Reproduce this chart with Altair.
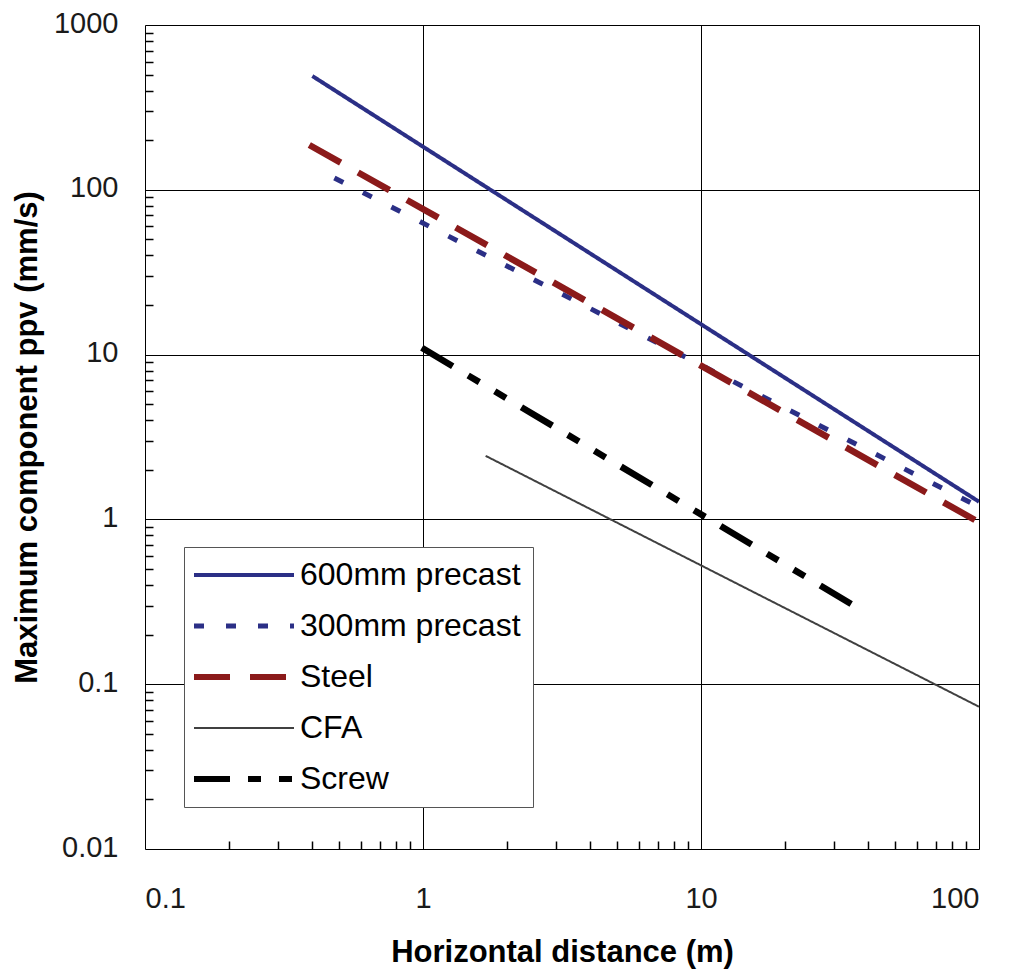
import altair as alt
import pandas as pd

# ---- data ----
series_names = ["600mm precast", "300mm precast", "Steel", "CFA", "Screw"]

x_600 = [0.40, 100.0]
y_600 = [490.0, 1.28]

x_300 = [0.48, 100.0]
y_300 = [118.0, 1.19]

x_steel = [0.39, 100.0]
y_steel = [187.0, 0.96]

x_cfa = [1.68, 100.0]
y_cfa = [2.43, 0.073]

x_screw = [0.99, 38.0]
y_screw = [11.0, 0.28]

x_major = [0.1, 1, 10, 100]
y_major = [0.01, 0.1, 1, 10, 100, 1000]

rows = []
for name, xs, ys in zip(series_names,
                        [x_600, x_300, x_steel, x_cfa, x_screw],
                        [y_600, y_300, y_steel, y_cfa, y_screw]):
    for i, (xv, yv) in enumerate(zip(xs, ys)):
        rows.append({"series": name, "x": xv, "y": yv, "order": i})
df = pd.DataFrame(rows)

x_minor = [m * d for d in [0.1, 1, 10] for m in range(2, 10)]
y_minor = [m * d for d in [0.01, 0.1, 1, 10, 100] for m in range(2, 10)]

colors = ["#2B2F86", "#2B2F86", "#8B1A1A", "#404040", "#000000"]
dashes = [[1, 0], [10, 22], [36, 20], [1, 0], [36, 18, 13, 18, 13, 18]]

FONT = "Liberation Sans"

xscale = alt.Scale(type="log", domain=[0.1, 100], nice=False)
yscale = alt.Scale(type="log", domain=[0.01, 1000], nice=False)

x_axis = alt.Axis(
    orient="bottom",
    values=x_major, format="~g", title="Horizontal distance (m)",
    grid=True, gridColor="#000000", gridWidth=1, gridOpacity=1,
    ticks=False, tickSize=0, domain=False,
    labelFont=FONT, labelFontSize=29, labelColor="#1a1a1a", labelPadding=35,
    labelBaseline="top",
    titleFont=FONT, titleFontSize=31, titleFontWeight="bold", titleColor="#000000",
    titleY=103, titleBaseline="middle",
)
y_axis = alt.Axis(
    orient="left",
    values=y_major, format="~g", title="Maximum component ppv (mm/s)",
    grid=True, gridColor="#000000", gridWidth=1, gridOpacity=1,
    ticks=False, tickSize=0, domain=False,
    labelFont=FONT, labelFontSize=29, labelColor="#1a1a1a", labelPadding=27,
    labelBaseline="middle", labelOffset=-2,
    titleFont=FONT, titleFontSize=31, titleFontWeight="bold", titleColor="#000000",
    titleX=-118, titleBaseline="middle",
)

width_cond = (
    alt.when(alt.datum.series == "CFA").then(alt.value(2))
    .when(alt.datum.series == "600mm precast").then(alt.value(4))
    .when(alt.datum.series == "300mm precast").then(alt.value(5))
    .otherwise(alt.value(6.5))
)

legend = alt.Legend(
    title=None, orient="none", legendX=39, legendY=522,
    padding=12, fillColor="#ffffff", strokeColor="#555555",
    symbolType="stroke", symbolSize=10000, rowPadding=19,
    symbolOffset=32, labelOffset=40,
    symbolStrokeWidth=alt.ExprRef(
        "datum.value === 'CFA' ? 2 : (datum.value === '600mm precast' ? 4 : (datum.value === '300mm precast' ? 5 : 6))"
    ),
    labelFont=FONT, labelFontSize=32, labelColor="#000000", labelLimit=0,
)

lines = alt.Chart(df).mark_line(clip=True).encode(
    x=alt.X("x:Q", scale=xscale, axis=x_axis),
    y=alt.Y("y:Q", scale=yscale, axis=y_axis),
    color=alt.Color("series:N", scale=alt.Scale(domain=series_names, range=colors), legend=legend),
    strokeDash=alt.StrokeDash("series:N", scale=alt.Scale(domain=series_names, range=dashes), legend=legend),
    strokeWidth=width_cond,
    order="order:Q",
)

minor = alt.Chart(df).mark_point(opacity=0).encode(
    x=alt.X("x:Q", scale=xscale, axis=alt.Axis(orient="bottom", values=x_minor, labels=False, grid=False,
                                               domain=False, ticks=True, tickSize=8, tickColor="#000000",
                                               tickWidth=1.5, offset=-8, title=None)),
    y=alt.Y("y:Q", scale=yscale, axis=alt.Axis(orient="left", values=y_minor, labels=False, grid=False,
                                               domain=False, ticks=True, tickSize=8, tickColor="#000000",
                                               tickWidth=1.5, offset=-8, title=None)),
)

chart = alt.layer(lines, minor).resolve_axis(x="independent", y="independent").properties(
    width=834, height=824,
    autosize=alt.AutoSizeParams(type="none"),
    padding={"left": 137, "top": 17, "right": 26, "bottom": 125},
).configure_view(stroke="#000000", strokeWidth=3).configure(background="#ffffff")

chart.save("out.html", embed_options={"renderer": "svg", "actions": False})
